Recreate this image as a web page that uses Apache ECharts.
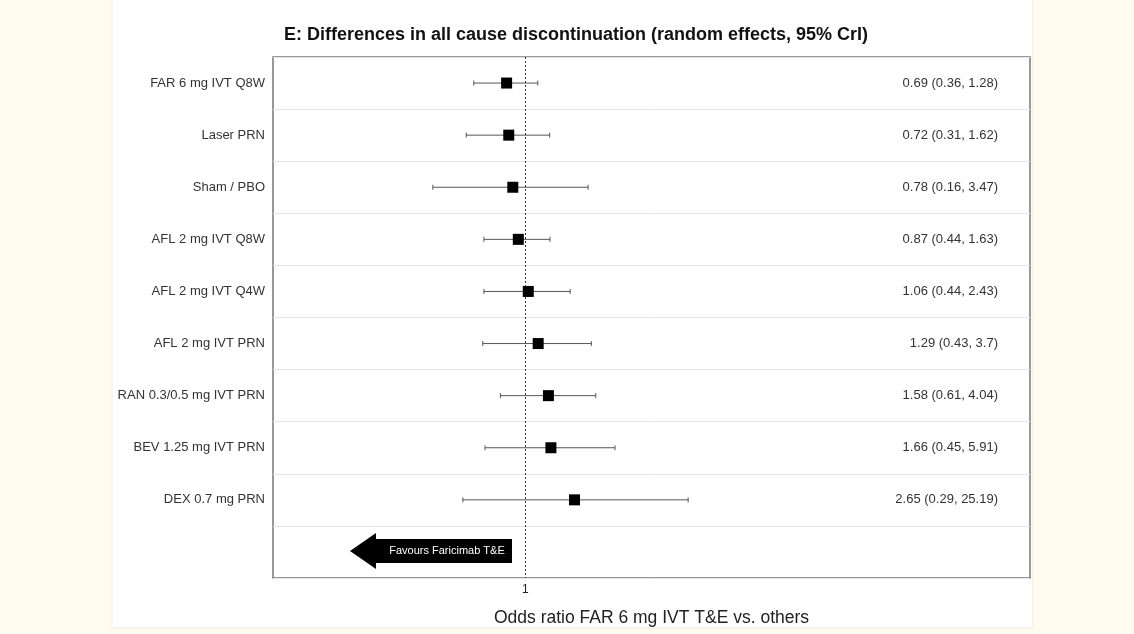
<!DOCTYPE html>
<html>
<head>
<meta charset="utf-8">
<script src="https://cdn.jsdelivr.net/npm/echarts@6/dist/echarts.min.js"></script>
<style>
html,body{margin:0;padding:0;background:#fffbee;}
#c{width:1134px;height:634px;}
</style>
</head>
<body>
<div id="c"></div>
<script>
const categories = ["FAR 6 mg IVT Q8W","Laser PRN","Sham / PBO","AFL 2 mg IVT Q8W","AFL 2 mg IVT Q4W","AFL 2 mg IVT PRN","RAN 0.3/0.5 mg IVT PRN","BEV 1.25 mg IVT PRN","DEX 0.7 mg PRN",""];
const estimates = [0.69,0.72,0.78,0.87,1.06,1.29,1.58,1.66,2.65];
const lower = [0.36,0.31,0.16,0.44,0.44,0.43,0.61,0.45,0.29];
const upper = [1.28,1.62,3.47,1.63,2.43,3.7,4.04,5.91,25.19];
const xTickLabels = {"1":"1"};

const rightLabels = categories.map((c,i)=> i<estimates.length ? `${estimates[i]} (${lower[i]}, ${upper[i]})` : "");

const chart = echarts.init(document.getElementById('c'));
const font = "'Liberation Sans', Arial, sans-serif";
chart.setOption({
  backgroundColor: '#fffbee',
  animation: false,
  textStyle: {fontFamily: font},
  title: {
    text: 'E: Differences in all cause discontinuation (random effects, 95% CrI)',
    left: 571, top: 21, textAlign: 'center',
    textStyle: {fontSize: 18, fontWeight: 'bold', color: '#111', fontFamily: font}
  },
  graphic: [
    {type:'rect', z:-10, shape:{x:112,y:-2,width:921,height:630}, style:{fill:'#ffffff', stroke:'#f0ede4', lineWidth:1}},
    {type:'polygon', z:10, shape:{points:[[350,551],[376,533],[376,539],[512,539],[512,563],[376,563],[376,569]]}, style:{fill:'#000'}},
    {type:'text', z:11, style:{x:447, y:551, text:'Favours Faricimab T&E', fill:'#fff', font:'11px '+font, textAlign:'center', textVerticalAlign:'middle'}}
  ],
  grid: {left:273, right:104, top:57, bottom:56, show:true, borderColor:'#777', borderWidth:1.5, backgroundColor:'transparent'},
  xAxis: {
    type:'log', logBase: Math.E, min: Math.exp(-5), max: Math.exp(10), splitNumber: 3,
    axisLine:{show:false}, axisTick:{show:false}, splitLine:{show:false},
    axisLabel:{fontSize:12, color:'#222', margin:6, formatter: v => (Math.abs(v-1)<1e-6 ? xTickLabels["1"] : '')},
    name:'Odds ratio FAR 6 mg IVT T&E vs. others', nameLocation:'middle', nameGap:31,
    nameTextStyle:{fontSize:17.5, color:'#222'}
  },
  yAxis: [
    {type:'category', data:categories, inverse:true,
     axisLine:{show:false}, axisTick:{show:false},
     splitLine:{show:true, lineStyle:{color:'#e4e4e4', width:1}},
     axisLabel:{fontSize:13, color:'#333', margin:8}},
    {type:'category', data:categories, inverse:true, position:'right',
     axisLine:{show:false}, axisTick:{show:false}, splitLine:{show:false},
     axisLabel:{inside:true, margin:32, fontSize:13, color:'#333', formatter:(v, i)=>rightLabels[i]}}
  ],
  series: [
    {
      type:'custom', z:3,
      data: estimates.map((e,i)=>[lower[i], upper[i], i]),
      encode:{x:[0,1], y:2},
      renderItem: (params, api) => {
        const a = api.coord([api.value(0), api.value(2)]);
        const b = api.coord([api.value(1), api.value(2)]);
        const h = 2.5;
        const st = {stroke:'#555', lineWidth:1};
        return {type:'group', children:[
          {type:'line', shape:{x1:a[0],y1:a[1],x2:b[0],y2:b[1]}, style:st},
          {type:'line', shape:{x1:a[0],y1:a[1]-h,x2:a[0],y2:a[1]+h}, style:st},
          {type:'line', shape:{x1:b[0],y1:b[1]-h,x2:b[0],y2:b[1]+h}, style:st}
        ]};
      }
    },
    {
      type:'scatter', z:5, symbol:'rect', symbolSize:11,
      itemStyle:{color:'#000', opacity:1},
      data: estimates.map((e,i)=>[e, i]),
      markLine:{
        silent:true, symbol:'none', label:{show:false},
        lineStyle:{type:[2,2], color:'#333', width:1},
        data:[{xAxis:1}]
      }
    }
  ]
});
</script>
</body>
</html>
